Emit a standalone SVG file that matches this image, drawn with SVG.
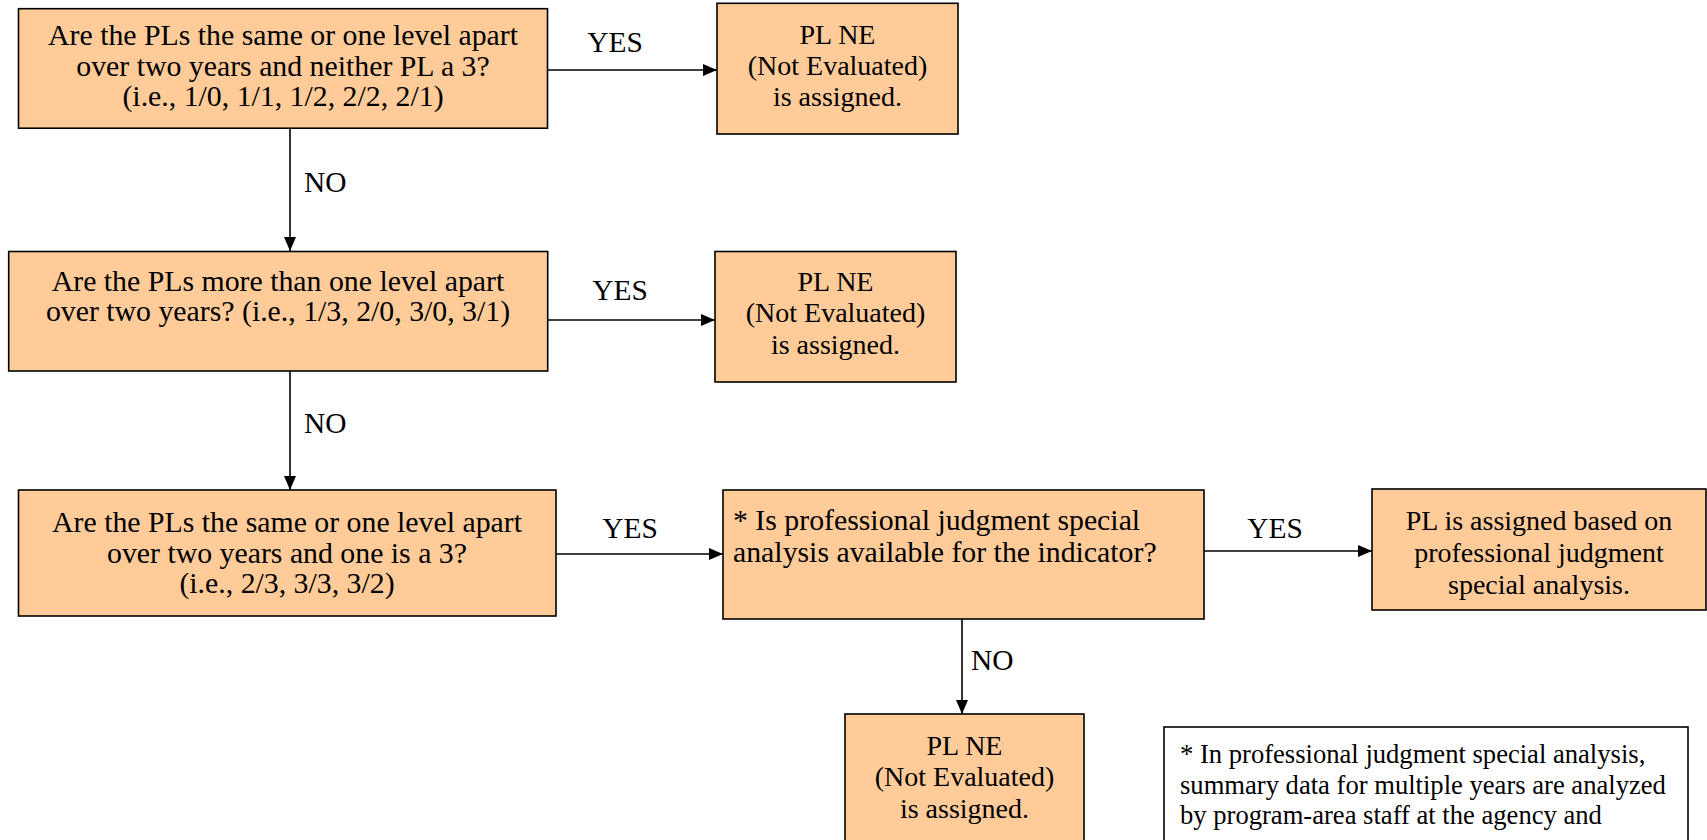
<svg xmlns="http://www.w3.org/2000/svg" width="1707" height="840" viewBox="0 0 1707 840">
<style>
.box{fill:#FFCC99;stroke:#000;stroke-width:1.6}
.note{fill:#fff;stroke:#000;stroke-width:1.6}
text{font-family:"Liberation Serif","Times New Roman",serif;font-size:28px;fill:#000}
.q{font-size:29.8px}
.lbl{font-size:29.4px}
.n{font-size:26.6px}
.c{text-anchor:middle}
.edge{stroke:#000;stroke-width:1.6;fill:none;marker-end:url(#ah)}
</style>
<defs>
<marker id="ah" markerUnits="userSpaceOnUse" markerWidth="14" markerHeight="12" refX="14" refY="6" orient="auto">
<path d="M0,0 L14,6 L0,12 z" fill="#000"/>
</marker>
</defs>
<g id="connectors">
<line class="edge" x1="548" y1="70" x2="717" y2="70"/>
<line class="edge" x1="290" y1="128" x2="290" y2="251"/>
<line class="edge" x1="548" y1="320" x2="715" y2="320"/>
<line class="edge" x1="290" y1="371" x2="290" y2="490"/>
<line class="edge" x1="556" y1="554" x2="723" y2="554"/>
<line class="edge" x1="1204" y1="551" x2="1372" y2="551"/>
<line class="edge" x1="962" y1="619" x2="962" y2="714"/>
<text x="615" y="52" class="c lbl">YES</text>
<text x="304" y="192" class="lbl">NO</text>
<text x="620" y="300" class="c lbl">YES</text>
<text x="304" y="433" class="lbl">NO</text>
<text x="630" y="538" class="c lbl">YES</text>
<text x="1275" y="538" class="c lbl">YES</text>
<text x="971" y="670" class="lbl">NO</text>
</g>
<g id="q1">
<rect class="box" x="18.5" y="8.7" width="529" height="119.5"/>
<text x="283" y="45" class="c q">Are the PLs the same or one level apart</text>
<text x="283" y="75.5" class="c q">over two years and neither PL a 3?</text>
<text x="283" y="106" class="c q">(i.e., 1/0, 1/1, 1/2, 2/2, 2/1)</text>
</g>
<g id="ne1">
<rect class="box" x="717" y="3.3" width="241" height="130.7"/>
<text x="837.5" y="43.5" class="c">PL NE</text>
<text x="837.5" y="74.5" class="c">(Not Evaluated)</text>
<text x="837.5" y="106" class="c">is assigned.</text>
</g>
<g id="q2">
<rect class="box" x="8.7" y="251.5" width="539" height="119.5"/>
<text x="278" y="290.5" class="c q">Are the PLs more than one level apart</text>
<text x="278" y="321" class="c q">over two years? (i.e., 1/3, 2/0, 3/0, 3/1)</text>
</g>
<g id="ne2">
<rect class="box" x="715" y="251.5" width="241" height="130.5"/>
<text x="835.5" y="290.5" class="c">PL NE</text>
<text x="835.5" y="322" class="c">(Not Evaluated)</text>
<text x="835.5" y="354" class="c">is assigned.</text>
</g>
<g id="q3">
<rect class="box" x="18.5" y="490" width="537.5" height="126"/>
<text x="287" y="532" class="c q">Are the PLs the same or one level apart</text>
<text x="287" y="562.5" class="c q">over two years and one is a 3?</text>
<text x="287" y="593" class="c q">(i.e., 2/3, 3/3, 3/2)</text>
</g>
<g id="q4">
<rect class="box" x="723" y="490" width="481" height="129"/>
<text x="733" y="529.5" class="q">* Is professional judgment special</text>
<text x="733" y="561.5" class="q">analysis available for the indicator?</text>
</g>
<g id="pj">
<rect class="box" x="1372" y="489" width="334" height="121"/>
<text x="1539" y="529.5" class="c">PL is assigned based on</text>
<text x="1539" y="561.5" class="c">professional judgment</text>
<text x="1539" y="594" class="c">special analysis.</text>
</g>
<g id="ne3">
<rect class="box" x="845" y="714" width="239" height="140"/>
<text x="964.5" y="754.5" class="c">PL NE</text>
<text x="964.5" y="785.5" class="c">(Not Evaluated)</text>
<text x="964.5" y="818" class="c">is assigned.</text>
</g>
<g id="footnote">
<rect class="note" x="1164" y="727" width="524" height="130"/>
<text x="1180" y="762.5" class="n">* In professional judgment special analysis,</text>
<text x="1180" y="793.5" class="n">summary data for multiple years are analyzed</text>
<text x="1180" y="823.5" class="n">by program-area staff at the agency and</text>
</g>
</svg>
